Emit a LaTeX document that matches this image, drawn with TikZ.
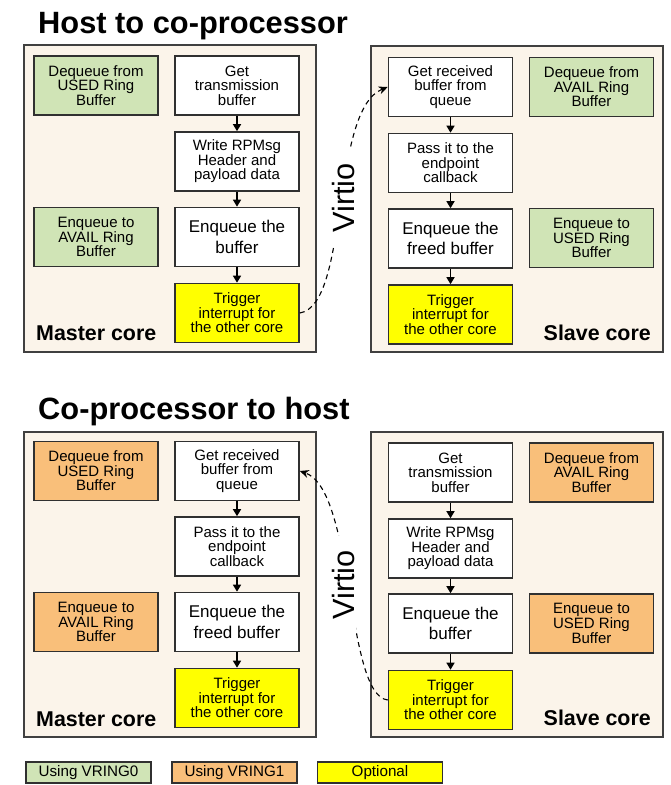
\documentclass[tikz,border=0pt]{standalone}
\usepackage{fontspec}
\setmainfont{Liberation Sans}
\usetikzlibrary{arrows.meta}
\definecolor{vgreen}{HTML}{D0E4B6}
\definecolor{vorange}{HTML}{F9BF7A}
\definecolor{vyellow}{HTML}{FFFF00}
\definecolor{panelbg}{HTML}{FBF4EA}
\definecolor{panelline}{HTML}{404040}
\definecolor{edgecol}{HTML}{303030}
\tikzset{
  box/.style={draw=edgecol, line width=1.6pt, minimum width=124pt, minimum height=59pt,
    inner sep=0pt, align=center, font=\fontsize{15}{14.6}\selectfont, text=black},
  wbox/.style={box, fill=white},
  gbox/.style={box, fill=vgreen},
  obox/.style={box, fill=vorange},
  ybox/.style={box, fill=vyellow},
  bigtext/.style={font=\fontsize{17}{20.7}\selectfont},
  panel/.style={draw=panelline, line width=1.5pt, fill=panelbg, minimum width=292pt, inner sep=0pt},
  flow/.style={-{Triangle[width=8pt,length=7pt]}, line width=1.3pt, black},
  virt/.style={dash pattern=on 5pt off 4pt, line width=1.1pt, -{Stealth[width=8pt,length=9pt]}},
  title/.style={anchor=base west, font=\fontsize{30.8}{34}\selectfont\bfseries, inner sep=0pt},
  corelabel/.style={font=\fontsize{21.4}{24}\selectfont\bfseries, inner sep=0pt},
  virtiolabel/.style={rotate=90, fill=white, font=\fontsize{30.7}{32}\selectfont, inner xsep=14pt, inner ysep=1pt},
  legend/.style={draw=edgecol, line width=1.3pt, minimum width=125pt, minimum height=21pt, inner sep=0pt,
    font=\fontsize{15.2}{16}\selectfont}
}
\begin{document}
\begin{tikzpicture}[x=1pt, y=-1pt]
\useasboundingbox (0,0) rectangle (670,785);

% ---------- Titles ----------
\node[title] (t1) at (38,33) {Host to co-processor};
\node[title] (t2) at (38,419) {Co-processor to host};

% ---------- Panels ----------
\node[panel, minimum height=307pt] (p1) at (170,198.5) {};
\node[panel, minimum height=306pt] (p2) at (517,199) {};
\node[panel, minimum height=305pt] (p3) at (170,584.5) {};
\node[panel, minimum height=305pt] (p4) at (517,584.5) {};

% ---------- Host to co-processor: master ----------
\node[gbox] (a1) at (96,85.5) {Dequeue from\\USED Ring\\Buffer};
\node[gbox] (a2) at (96,237) {Enqueue to\\AVAIL Ring\\Buffer};
\node[wbox] (m1) at (237,85.5) {Get\\transmission\\buffer};
\node[wbox] (m2) at (237,161.5) {Write RPMsg\\Header and\\payload data};
\node[wbox, bigtext] (m3) at (237,237) {Enqueue the\\buffer};
\node[ybox] (m4) at (237,313) {Trigger\\interrupt for\\the other core};
\node[corelabel, anchor=base west] (mc1) at (36,340) {Master core};

% ---------- Host to co-processor: slave ----------
\node[wbox] (s1) at (450.5,87) {Get received\\buffer from\\queue};
\node[wbox] (s2) at (450.5,163) {Pass it to the\\endpoint\\callback};
\node[wbox, bigtext] (s3) at (450.5,238.5) {Enqueue the\\freed buffer};
\node[ybox] (s4) at (450.5,314.5) {Trigger\\interrupt for\\the other core};
\node[gbox] (b1) at (591.5,87) {Dequeue from\\AVAIL Ring\\Buffer};
\node[gbox] (b2) at (591.5,238) {Enqueue to\\USED Ring\\Buffer};
\node[corelabel, anchor=base east] (sc1) at (651,340) {Slave core};

% ---------- Co-processor to host: master ----------
\node[obox] (c1) at (96,471) {Dequeue from\\USED Ring\\Buffer};
\node[obox] (c2) at (96,622) {Enqueue to\\AVAIL Ring\\Buffer};
\node[wbox] (n1) at (237,471) {Get received\\buffer from\\queue};
\node[wbox] (n2) at (237,546.5) {Pass it to the\\endpoint\\callback};
\node[wbox, bigtext] (n3) at (237,622) {Enqueue the\\freed buffer};
\node[ybox] (n4) at (237,698) {Trigger\\interrupt for\\the other core};
\node[corelabel, anchor=base west] (mc2) at (36,726) {Master core};

% ---------- Co-processor to host: slave ----------
\node[wbox] (r1) at (450.5,472.5) {Get\\transmission\\buffer};
\node[wbox] (r2) at (450.5,548.5) {Write RPMsg\\Header and\\payload data};
\node[wbox, bigtext] (r3) at (450.5,623.5) {Enqueue the\\buffer};
\node[ybox] (r4) at (450.5,700) {Trigger\\interrupt for\\the other core};
\node[obox] (d1) at (591.5,472.5) {Dequeue from\\AVAIL Ring\\Buffer};
\node[obox] (d2) at (591.5,623.5) {Enqueue to\\USED Ring\\Buffer};
\node[corelabel, anchor=base east] (sc2) at (651,725) {Slave core};

% ---------- Flow arrows ----------
\draw[flow] (m1) -- (m2);
\draw[flow] (m2) -- (m3);
\draw[flow] (m3) -- (m4);
\draw[flow] (s1) -- (s2);
\draw[flow] (s2) -- (s3);
\draw[flow] (s3) -- (s4);
\draw[flow] (n1) -- (n2);
\draw[flow] (n2) -- (n3);
\draw[flow] (n3) -- (n4);
\draw[flow] (r1) -- (r2);
\draw[flow] (r2) -- (r3);
\draw[flow] (r3) -- (r4);

% ---------- Virtio links ----------
\draw[virt] (m4.east) .. controls (350,305) and (330,110) .. (s1.west);
\draw[virt] (r4.west) .. controls (345,695) and (355,490) .. (n1.east);
\node[virtiolabel] (v1) at (344,198) {Virtio};
\node[virtiolabel] (v2) at (344,585) {Virtio};

% ---------- Legend ----------
\node[legend, fill=vgreen] (l1) at (88.5,772.5) {Using VRING0};
\node[legend, fill=vorange] (l2) at (234.5,772.5) {Using VRING1};
\node[legend, fill=vyellow] (l3) at (380,772.5) {Optional};
\end{tikzpicture}
\end{document}
